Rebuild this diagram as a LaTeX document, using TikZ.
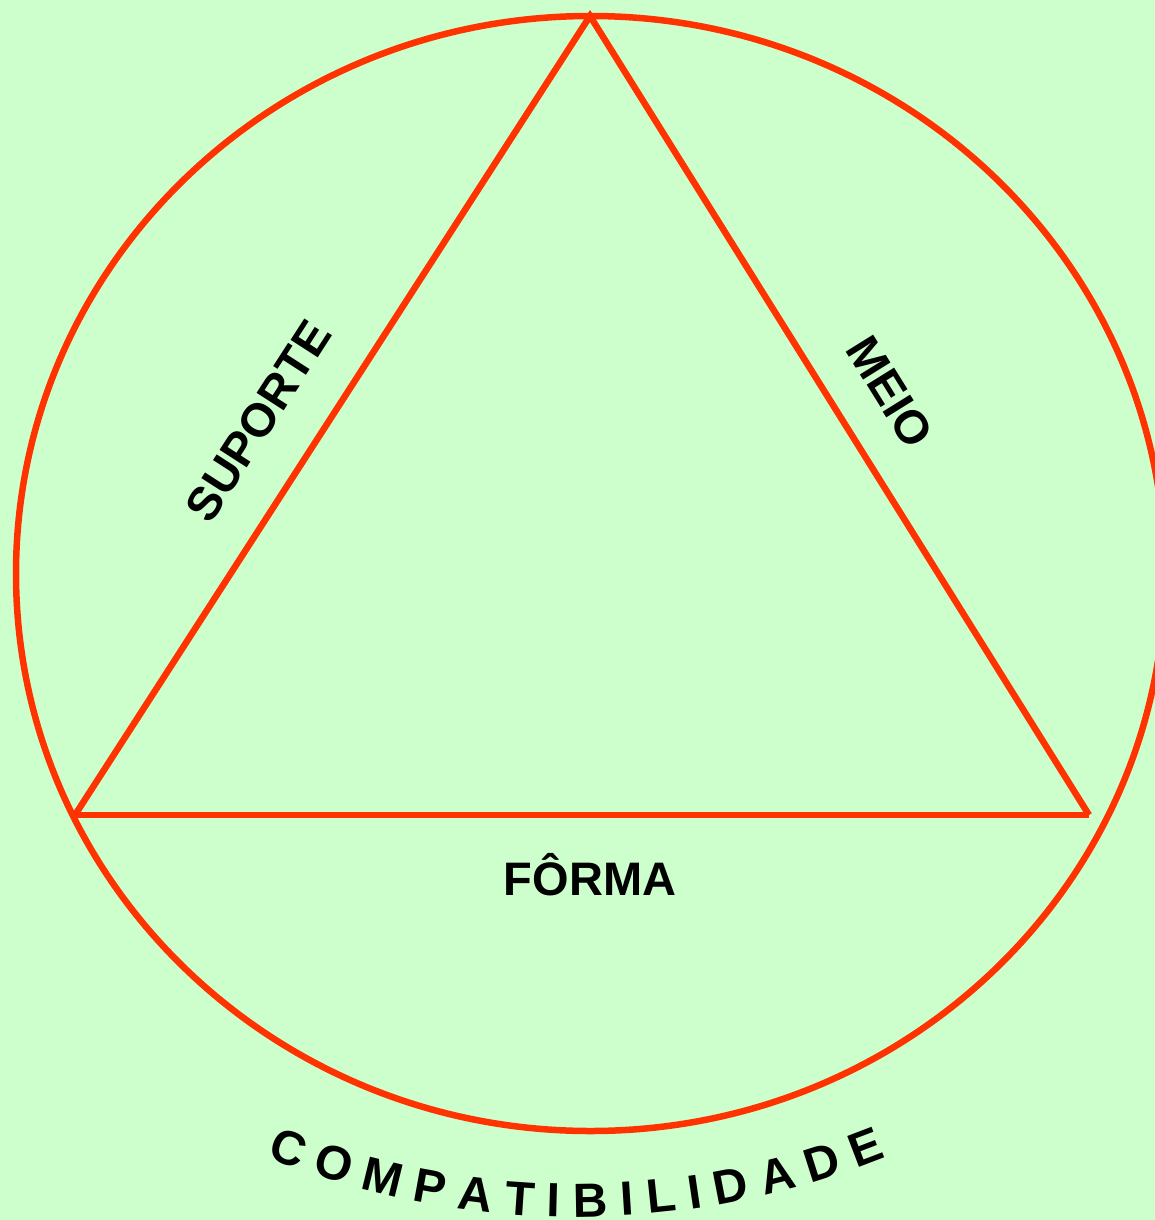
\documentclass[tikz,border=0pt]{standalone}
\usepackage{fontspec}
\setmainfont{Liberation Sans}
\usepackage{xcolor}
\usetikzlibrary{decorations.text}

\definecolor{bgGreen}{HTML}{CCFFCC}
\definecolor{rimRed}{HTML}{FF3300}

\begin{document}
\begin{tikzpicture}[
    x=1pt, y=-1pt,
    rim/.style={draw=rimRed, line width=6.5pt},
    word/.style={font=\fontsize{47}{56}\selectfont\bfseries, inner sep=0pt}
]
\fill[bgGreen] (0,0) rectangle (1155,1220);
\useasboundingbox (0,0) rectangle (1155,1220);

\coordinate (centre) at (590.5,573.5);
\coordinate (apex) at (590,16);
\coordinate (baseL) at (75,815);
\coordinate (baseR) at (1089,815);
\coordinate (arcc) at (576,390);

\draw[rim] (centre) ellipse [x radius=574.5, y radius=557.5];
\draw[rim] (baseL) -- (apex) -- (baseR);
\draw[rim] (baseL) -- (baseR);

\node[word, rotate=57.2] (suporte) at (258,421) {SUPORTE};
\node[word, rotate=-58.1] (meio) at (890,392) {MEIO};
\node[word, anchor=base] (forma) at (590,895) {FÔRMA};

% letters round the bottom of the circle
\path[decorate, decoration={text along path, text align=center,
    text={|\fontsize{48}{58}\selectfont\bfseries|C O M P A T I B I L I D A D E}}]
    ([shift={(120:827)}]arcc) arc[start angle=120, end angle=60, radius=827];
\end{tikzpicture}
\end{document}
